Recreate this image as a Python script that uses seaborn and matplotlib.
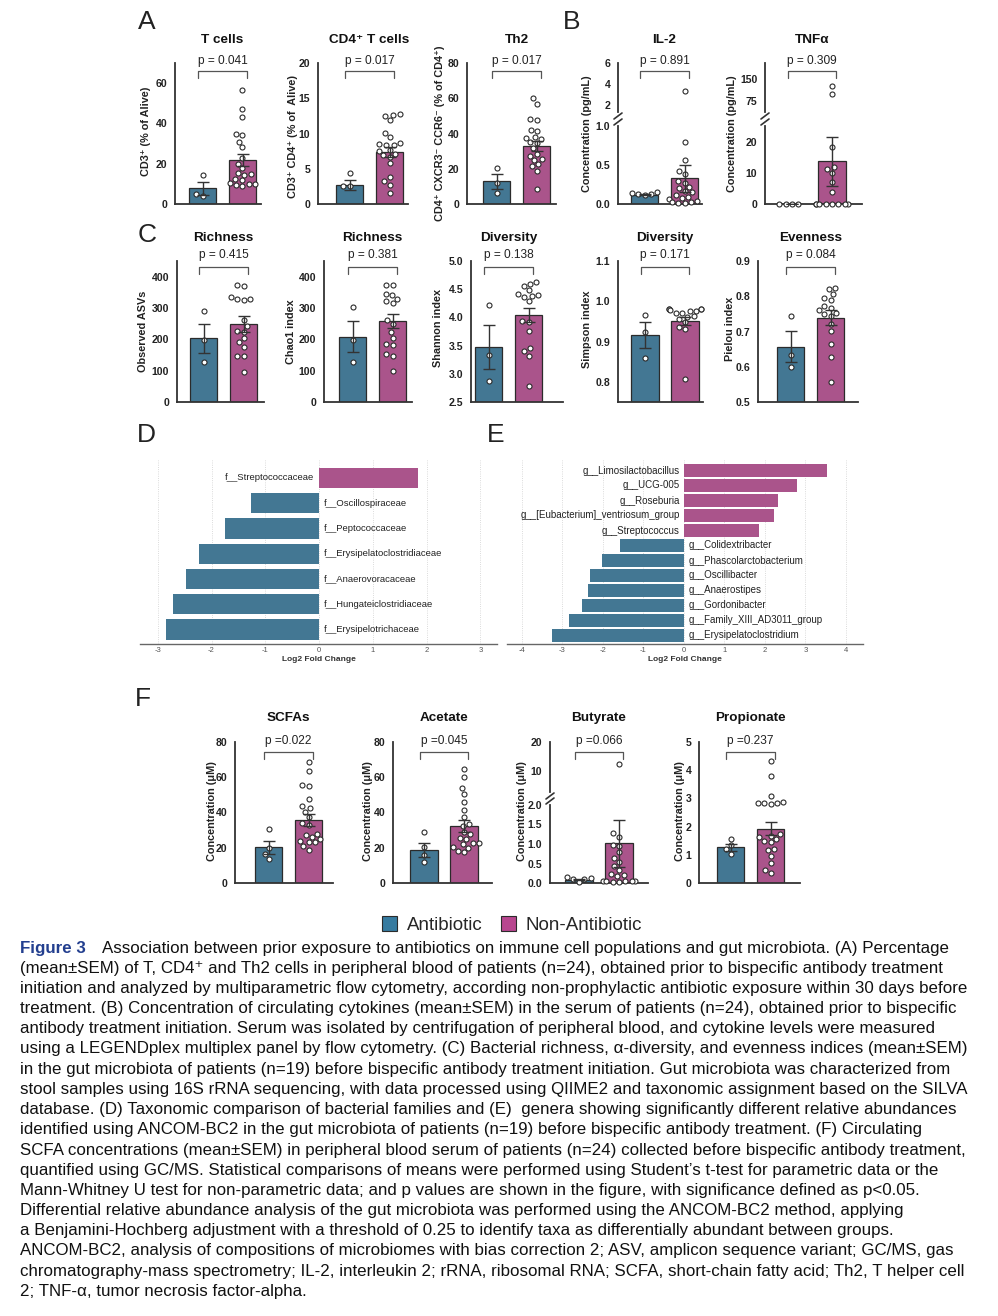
import numpy as np
import pandas as pd
import matplotlib
matplotlib.use("Agg")
import matplotlib.pyplot as plt
import seaborn as sns
from matplotlib.patches import Patch
from matplotlib.lines import Line2D
from matplotlib.transforms import blended_transform_factory

# ==========================================================
# DATA
# ==========================================================
GROUPS = ["Antibiotic", "Non-Antibiotic"]

# (A) flow cytometry
tcells_mean = [7.8, 21.8]
tcells_sem = [3.3, 3.0]
tcells_ab = [14.4, 4.8, 4.0]
tcells_non = [56.5, 47, 43, 34.7, 34.5, 31, 28.4, 22.7, 20, 18, 15.2, 14.8,
              14.5, 12.2, 11.8, 10.2, 10, 9.8, 9.2, 8.8]

cd4_mean = [2.7, 7.35]
cd4_sem = [0.75, 0.75]
cd4_ab = [4.35, 2.6, 2.5]
cd4_non = [12.7, 12.6, 12.5, 11.9, 10.1, 9.5, 8.6, 8.5, 8.4, 8.3, 7.7, 7.5,
           7.1, 6.9, 6.7, 5.8, 3.9, 3.2, 2.7, 1.5]

th2_mean = [12.8, 32.9]
th2_sem = [4.3, 2.8]
th2_ab = [20.6, 12.1, 6.1]
th2_non = [60, 57, 48.5, 47.5, 41.8, 41.2, 38, 37.5, 37, 35, 34.5, 31.5,
           28.5, 27.5, 25.5, 25, 22.5, 21.5, 18.9, 8.3]

# (B) cytokines
il2_mean = [0.12, 0.33]
il2_sem = [0.01, 0.17]
il2_ab = [0.16, 0.14, 0.13, 0.13, 0.12]
il2_non = [3.35, 0.79, 0.56, 0.42, 0.38, 0.29, 0.27, 0.22, 0.2, 0.17, 0.15,
           0.12, 0.09, 0.08, 0.06, 0.04, 0.03, 0.02, 0.01, 0.01]

tnf_mean = [0.0, 13.7]
tnf_sem = [0.0, 7.9]
tnf_ab = [0, 0, 0, 0]
tnf_non = [125, 100, 18.2, 11.8, 11.2, 9.9, 7.2, 4.0, 0, 0, 0, 0, 0, 0, 0, 0]

# (C) microbiota alpha diversity
asv_mean = [203, 249]
asv_sem = [47, 24]
asv_ab = [289, 198, 129]
asv_non = [372, 370, 334, 330, 328, 326, 262, 242, 228, 225, 203, 190, 175,
           148, 146, 97]

chao_mean = [209, 258]
chao_sem = [50, 22]
chao_ab = [303, 198, 129]
chao_non = [375, 372, 346, 343, 330, 322, 316, 262, 250, 222, 203, 186, 182,
            152, 148, 100]

shannon_mean = [3.47, 4.04]
shannon_sem = [0.39, 0.13]
shannon_ab = [4.22, 3.33, 2.87]
shannon_non = [4.63, 4.6, 4.56, 4.48, 4.41, 4.39, 4.38, 4.36, 4.29, 3.94,
               3.92, 3.76, 3.45, 3.40, 3.32, 2.79]

simpson_mean = [0.916, 0.952]
simpson_sem = [0.032, 0.01]
simpson_ab = [0.967, 0.924, 0.86]
simpson_non = [0.982, 0.981, 0.980, 0.980, 0.978, 0.977, 0.976, 0.972, 0.970,
               0.963, 0.962, 0.955, 0.948, 0.937, 0.930, 0.806]

pielou_mean = [0.657, 0.739]
pielou_sem = [0.044, 0.021]
pielou_ab = [0.743, 0.633, 0.60]
pielou_non = [0.822, 0.820, 0.806, 0.795, 0.790, 0.772, 0.768, 0.761, 0.752,
              0.750, 0.745, 0.720, 0.702, 0.665, 0.628, 0.557]

# (D) families
family_names = ["f__Streptococcaceae", "f__Oscillospiraceae", "f__Peptococcaceae",
                "f__Erysipelatoclostridiaceae", "f__Anaerovoracaceae",
                "f__Hungateiclostridiaceae", "f__Erysipelotrichaceae"]
family_lfc = [1.84, -1.26, -1.74, -2.24, -2.47, -2.71, -2.84]

# (E) genera
genus_names = ["g__Limosilactobacillus", "g__UCG-005", "g__Roseburia",
               "g__[Eubacterium]_ventriosum_group", "g__Streptococcus",
               "g__Colidextribacter", "g__Phascolarctobacterium",
               "g__Oscillibacter", "g__Anaerostipes", "g__Gordonibacter",
               "g__Family_XIII_AD3011_group", "g__Erysipelatoclostridium"]
genus_lfc = [3.53, 2.78, 2.32, 2.23, 1.85, -1.58, -2.02, -2.32, -2.37, -2.53,
             -2.84, -3.26]

# (F) SCFAs
scfa_mean = [20.2, 35.7]
scfa_sem = [3.6, 3.4]
scfa_ab = [30.4, 19.6, 16.7, 13.9]
scfa_non = [68.9, 63.8, 55.8, 55, 47.7, 43.5, 42.5, 40.5, 37.6, 34, 33, 28,
            27.5, 26, 25, 24, 23, 23, 21, 19]

acetate_mean = [18.8, 32.5]
acetate_sem = [4.0, 3.5]
acetate_ab = [29.1, 20.5, 15.8, 12]
acetate_non = [64.7, 60, 53.9, 50.7, 45.8, 41.6, 37.4, 33.5, 32.5, 29.1, 27.7,
               25.5, 25, 22.8, 22.5, 22, 20.5, 20, 17.9, 17.5]

butyrate_mean = [0.085, 1.02]
butyrate_sem = [0.02, 0.6]
butyrate_ab = [0.15, 0.12, 0.11, 0.09, 0.02]
butyrate_non = [12.5, 1.27, 1.19, 0.98, 0.96, 0.80, 0.63, 0.54, 0.43, 0.33,
                0.22, 0.2, 0.18, 0.06, 0.05, 0.05, 0.04, 0.04, 0.03, 0.03]

propionate_mean = [1.26, 1.93]
propionate_sem = [0.11, 0.23]
propionate_ab = [1.55, 1.33, 1.2, 1.04]
propionate_non = [4.32, 3.8, 3.08, 2.86, 2.85, 2.83, 2.82, 2.81, 1.72, 1.68,
                  1.62, 1.55, 1.5, 1.45, 1.2, 1.17, 0.97, 0.7, 0.46, 0.34]

caption_lines = [
    "Association between prior exposure to antibiotics on immune cell populations and gut microbiota. (A) Percentage",
    "(mean\u00b1SEM) of T, CD4\u207a and Th2 cells in peripheral blood of patients (n=24), obtained prior to bispecific antibody treatment",
    "initiation and analyzed by multiparametric flow cytometry, according non-prophylactic antibiotic exposure within 30 days before",
    "treatment. (B) Concentration of circulating cytokines (mean\u00b1SEM) in the serum of patients (n=24), obtained prior to bispecific",
    "antibody treatment initiation. Serum was isolated by centrifugation of peripheral blood, and cytokine levels were measured",
    "using a LEGENDplex multiplex panel by flow cytometry. (C) Bacterial richness, \u03b1-diversity, and evenness indices (mean\u00b1SEM)",
    "in the gut microbiota of patients (n=19) before bispecific antibody treatment initiation. Gut microbiota was characterized from",
    "stool samples using 16S rRNA sequencing, with data processed using QIIME2 and taxonomic assignment based on the SILVA",
    "database. (D) Taxonomic comparison of bacterial families and (E)  genera showing significantly different relative abundances",
    "identified using ANCOM-BC2 in the gut microbiota of patients (n=19) before bispecific antibody treatment. (F) Circulating",
    "SCFA concentrations (mean\u00b1SEM) in peripheral blood serum of patients (n=24) collected before bispecific antibody treatment,",
    "quantified using GC/MS. Statistical comparisons of means were performed using Student\u2019s t-test for parametric data or the",
    "Mann-Whitney U test for non-parametric data; and p values are shown in the figure, with significance defined as p<0.05.",
    "Differential relative abundance analysis of the gut microbiota was performed using the ANCOM-BC2 method, applying",
    "a Benjamini-Hochberg adjustment with a threshold of 0.25 to identify taxa as differentially abundant between groups.",
    "ANCOM-BC2, analysis of compositions of microbiomes with bias correction 2; ASV, amplicon sequence variant; GC/MS, gas",
    "chromatography-mass spectrometry; IL-2, interleukin 2; rRNA, ribosomal RNA; SCFA, short-chain fatty acid; Th2, T helper cell",
    "2; TNF-\u03b1, tumor necrosis factor-alpha.",
]

# ==========================================================
# STYLE
# ==========================================================
W, H = 998, 1316
BLUE = "#367ba0"
MAGENTA = "#b8468f"
DARK = "#333333"
PX = 40.0  # pixels per category step

sns.set_style("white")
plt.rcParams["font.family"] = ["Liberation Sans", "DejaVu Sans"]

fig = plt.figure(figsize=(W / 100, H / 100), dpi=100)


def add_ax(x0, x1, y0, y1):
    return fig.add_axes([x0 / W, 1 - y1 / H, (x1 - x0) / W, (y1 - y0) / H])


def style_ax(ax, ylim, ticks, fmt, show_bottom=True):
    ax.set_ylim(*ylim)
    ax.set_yticks(ticks)
    ax.set_yticklabels([fmt.format(t) for t in ticks], fontweight="bold",
                       fontsize=7.6, color="#222222")
    ax.set_xticks([])
    ax.set_xlabel("")
    ax.set_ylabel("")
    ax.tick_params(axis="y", length=4, width=1.2, pad=1.5, color=DARK)
    for s in ["top", "right"]:
        ax.spines[s].set_visible(False)
    ax.spines["left"].set_linewidth(1.3)
    ax.spines["left"].set_color(DARK)
    ax.spines["bottom"].set_linewidth(1.3)
    ax.spines["bottom"].set_color(DARK)
    ax.spines["bottom"].set_visible(show_bottom)
    ax.patch.set_alpha(0)


def draw_group(ax, means, sems, pts_ab, pts_non, lo, hi):
    df = pd.DataFrame({
        "group": [GROUPS[0]] * len(pts_ab) + [GROUPS[1]] * len(pts_non),
        "value": list(pts_ab) + list(pts_non),
    })
    df = df[(df["value"] >= lo) & (df["value"] <= hi)]
    sns.barplot(x=GROUPS, y=means, hue=GROUPS, palette=[BLUE, MAGENTA],
                order=GROUPS, width=0.68, errorbar=None, legend=False,
                edgecolor="#2b2b2b", linewidth=0.9, ax=ax)
    sns.swarmplot(data=df, x="group", y="value", order=GROUPS, color="white",
                  edgecolor="#2b2b2b", linewidth=0.8, size=3.6, ax=ax, zorder=3)
    for c in ax.collections:
        c.set_clip_on(False)
    ax.errorbar([0, 1], means, yerr=sems, fmt="none", ecolor=DARK,
                elinewidth=1.0, capsize=4, capthick=1.0, zorder=5)


def set_x(ax, spine_x, blue_c, x_end):
    xl = -(blue_c - spine_x) / PX
    ax.set_xlim(xl, xl + (x_end - spine_x) / PX)


def header(ax, title, ptext, y_title, y_p, y_br):
    tr = blended_transform_factory(ax.transData, fig.transFigure)
    yb = 1 - y_br / H
    tk = 7 / H
    ax.plot([-0.11, -0.11, 1.11, 1.11], [yb - tk, yb, yb, yb - tk],
            transform=tr, color="#555555", lw=0.9, clip_on=False)
    ax.text(0.5, 1 - y_p / H, ptext, transform=tr, ha="center", va="center",
            fontsize=8.6, color="#222222")
    ax.text(0.5, 1 - y_title / H, title, transform=tr, ha="center",
            va="center", fontsize=9.7, fontweight="bold", color="#111111")


def ylab(x, y, text):
    fig.text(x / W, 1 - y / H, text, rotation=90, ha="center", va="center",
             fontsize=7.8, fontweight="bold", color="#222222")


def bar_panel(box, ylim, ticks, fmt, means, sems, pts_ab, pts_non, title,
              ptext, heads, label):
    spine_x, blue_c, x_end, y_top, y_bot = box
    ax = add_ax(spine_x, x_end, y_top, y_bot)
    draw_group(ax, means, sems, pts_ab, pts_non, ylim[0], ylim[1])
    style_ax(ax, ylim, ticks, fmt)
    set_x(ax, spine_x, blue_c, x_end)
    header(ax, title, ptext, *heads)
    ylab(*label)
    return ax


def slash(x, y):
    fig.add_artist(Line2D([(x - 4) / W, (x + 4) / W],
                          [1 - (y + 3) / H, 1 - (y - 3) / H],
                          transform=fig.transFigure, color=DARK, lw=1.2))


def broken_panel(box, y_mid, lo_lim, lo_ticks, lo_fmt, up_lim, up_ticks,
                 up_fmt, means, sems, pts_ab, pts_non, title, ptext, heads,
                 label):
    spine_x, blue_c, x_end, y_top, y_bot = box
    up_bot, lo_top = y_mid
    lo = add_ax(spine_x, x_end, lo_top, y_bot)
    draw_group(lo, means, sems, pts_ab, pts_non, lo_lim[0], lo_lim[1])
    style_ax(lo, lo_lim, lo_ticks, lo_fmt)
    set_x(lo, spine_x, blue_c, x_end)
    up = add_ax(spine_x, x_end, y_top, up_bot)
    draw_group(up, means, sems, pts_ab, pts_non, up_lim[0], up_lim[1])
    style_ax(up, up_lim, up_ticks, up_fmt, show_bottom=False)
    set_x(up, spine_x, blue_c, x_end)
    header(lo, title, ptext, *heads)
    ylab(*label)
    slash(spine_x, up_bot + 4)
    slash(spine_x, lo_top - 4)


# ==========================================================
# (A) and (B)
# ==========================================================
HA = (40, 61, 71)
bar_panel((175, 202.5, 261, 63, 204), (0, 70), [0, 20, 40, 60], "{:g}",
          tcells_mean, tcells_sem, tcells_ab, tcells_non, "T cells",
          "p = 0.041", HA, (146, 131, "CD3\u207a (% of Alive)"))
bar_panel((318, 349.5, 408, 63, 204), (0, 20), [0, 5, 10, 15, 20], "{:g}",
          cd4_mean, cd4_sem, cd4_ab, cd4_non, "CD4\u207a T cells",
          "p = 0.017", HA, (293, 137, "CD3\u207a CD4\u207a (% of  Alive)"))
bar_panel((467, 496.5, 556, 63, 204), (0, 80), [0, 20, 40, 60, 80], "{:g}",
          th2_mean, th2_sem, th2_ab, th2_non, "Th2", "p = 0.017", HA,
          (440, 133, "CD4\u207a CXCR3\u207b CCR6\u207b (% of CD4\u207a)"))

broken_panel((618, 644.5, 702, 63, 204), (112, 126), (0, 1.0),
             [0, 0.5, 1.0], "{:.1f}", (1.33, 6), [2, 4, 6], "{:g}",
             il2_mean, il2_sem, il2_ab, il2_non, "IL-2", "p = 0.891", HA,
             (587, 134, "Concentration (pg/mL)"))
broken_panel((765, 792, 862, 63, 204), (112, 126), (0, 25), [0, 10, 20],
             "{:g}", (38, 205), [75, 150], "{:g}", tnf_mean, tnf_sem, tnf_ab,
             tnf_non, "TNF\u03b1", "p = 0.309", HA,
             (732, 134, "Concentration (pg/mL)"))

# ==========================================================
# (C)
# ==========================================================
HC = (238, 255, 267)
bar_panel((177, 203.5, 264, 261, 402), (0, 450), [0, 100, 200, 300, 400],
          "{:g}", asv_mean, asv_sem, asv_ab, asv_non, "Richness", "p = 0.415",
          HC, (143, 331, "Observed ASVs"))
bar_panel((324, 352.5, 412, 261, 402), (0, 450), [0, 100, 200, 300, 400],
          "{:g}", chao_mean, chao_sem, chao_ab, chao_non, "Richness",
          "p = 0.381", HC, (291, 332, "Chao1 index"))
bar_panel((471, 488.5, 563, 261, 402), (2.5, 5.0),
          [2.5, 3.0, 3.5, 4.0, 4.5, 5.0], "{:.1f}", shannon_mean, shannon_sem,
          shannon_ab, shannon_non, "Diversity", "p = 0.138", HC,
          (438, 328, "Shannon index"))
bar_panel((618, 645, 703, 261, 402), (0.75, 1.1), [0.8, 0.9, 1.0, 1.1],
          "{:.1f}", simpson_mean, simpson_sem, simpson_ab, simpson_non,
          "Diversity", "p = 0.171", HC, (587, 329, "Simpson index"))
bar_panel((758, 790.5, 858, 261, 402), (0.5, 0.9),
          [0.5, 0.6, 0.7, 0.8, 0.9], "{:.1f}", pielou_mean, pielou_sem,
          pielou_ab, pielou_non, "Evenness", "p = 0.084", HC,
          (730, 329, "Pielou index"))


# ==========================================================
# (D) and (E)
# ==========================================================
def lfc_panel(box, names, values, xlim, ticks, bar_h, off_pos, off_neg, fs):
    x0, x1, y0, y1, c_top, c_bot = box
    ax = add_ax(x0, x1, y0, y1)
    df = pd.DataFrame({"taxon": names, "lfc": values})
    df["sign"] = np.where(df["lfc"] > 0, "pos", "neg")
    sns.barplot(data=df, x="lfc", y="taxon", hue="sign", orient="h",
                palette={"pos": MAGENTA, "neg": BLUE}, dodge=False,
                width=bar_h, legend=False, linewidth=0, ax=ax)
    n = len(names)
    step = (c_bot - c_top) / (n - 1)
    ax.set_ylim(n - 1 + (y1 - c_bot) / step, -(c_top - y0) / step)
    ax.set_xlim(*xlim)
    ax.set_yticks([])
    ax.set_ylabel("")
    ax.set_xticks(ticks)
    ax.set_xticklabels([str(t) for t in ticks])
    ax.tick_params(axis="x", length=0, pad=2, labelsize=5.5,
                   labelcolor="#555555")
    ax.set_xlabel("Log2 Fold Change", fontsize=6, fontweight="bold",
                  labelpad=1.5, color="#333333")
    ax.grid(axis="x", color="#cfcfcf", lw=0.6, ls=":")
    ax.set_axisbelow(True)
    for s in ["top", "right", "left"]:
        ax.spines[s].set_visible(False)
    ax.spines["bottom"].set_color("#666666")
    ax.spines["bottom"].set_linewidth(1.0)
    for i, (nm, v) in enumerate(zip(names, values)):
        if v > 0:
            ax.text(off_pos, i, nm, ha="right", va="center", fontsize=fs,
                    color="#222222")
        else:
            ax.text(off_neg, i, nm, ha="left", va="center", fontsize=fs,
                    color="#222222")


lfc_panel((140, 497, 460, 644, 478, 629.5), family_names, family_lfc,
          (-3.33, 3.31), [-3, -2, -1, 0, 1, 2, 3], 0.8, -0.1, 0.08, 6.8)
lfc_panel((507, 863, 460, 644, 470.5, 635.5), genus_names, genus_lfc,
          (-4.37, 4.42), [-4, -3, -2, -1, 0, 1, 2, 3, 4], 0.87, -0.1, 0.12,
          7.0)

# ==========================================================
# (F)
# ==========================================================
HF = (718, 741, 752)
bar_panel((235, 268.5, 333, 742, 883), (0, 80), [0, 20, 40, 60, 80], "{:g}",
          scfa_mean, scfa_sem, scfa_ab, scfa_non, "SCFAs", "p =0.022", HF,
          (212, 811, "Concentration (\u03bcM)"))
bar_panel((393, 424, 492, 742, 883), (0, 80), [0, 20, 40, 60, 80], "{:g}",
          acetate_mean, acetate_sem, acetate_ab, acetate_non, "Acetate",
          "p =0.045", HF, (368, 811, "Concentration (\u03bcM)"))
broken_panel((550, 579, 648, 742, 883), (792, 805), (0, 2.0),
             [0, 0.5, 1.0, 1.5, 2.0], "{:.1f}", (2.66, 20), [10, 20], "{:g}",
             butyrate_mean, butyrate_sem, butyrate_ab, butyrate_non,
             "Butyrate", "p =0.066", HF, (522, 811, "Concentration (\u03bcM)"))
bar_panel((699, 730.5, 800, 742, 883), (0, 5), [0, 1, 2, 3, 4, 5], "{:g}",
          propionate_mean, propionate_sem, propionate_ab, propionate_non,
          "Propionate", "p =0.237", HF, (680, 811, "Concentration (\u03bcM)"))

# ==========================================================
# PANEL LETTERS, LEGEND, CAPTION
# ==========================================================
for letter, x, y in [("A", 147, 22), ("B", 572, 22), ("C", 147, 235),
                     ("D", 146, 435), ("E", 496, 435), ("F", 143, 699)]:
    fig.text(x / W, 1 - y / H, letter, ha="center", va="center", fontsize=19,
             color="#222222")

handles = [Patch(facecolor=BLUE, edgecolor="#2b2b2b", lw=0.8, label=GROUPS[0]),
           Patch(facecolor=MAGENTA, edgecolor="#2b2b2b", lw=0.8, label=GROUPS[1])]
fig.legend(handles=handles, loc="center", bbox_to_anchor=(512 / W, 1 - 925 / H),
           ncol=2, frameon=False, fontsize=13.5, handlelength=0.8,
           handleheight=0.8, columnspacing=1.0, handletextpad=0.5)

CAP_FS = 12.2
fig.text(20 / W, 1 - 948 / H, "Figure 3", ha="left", va="center",
         fontsize=CAP_FS, fontweight="bold", color="#233f8f")
for i, line in enumerate(caption_lines):
    x = 102 if i == 0 else 20
    fig.text(x / W, 1 - (948 + i * 20.2) / H, line, ha="left", va="center",
             fontsize=CAP_FS, color="#111111")

fig.savefig("out.png", dpi=100)
